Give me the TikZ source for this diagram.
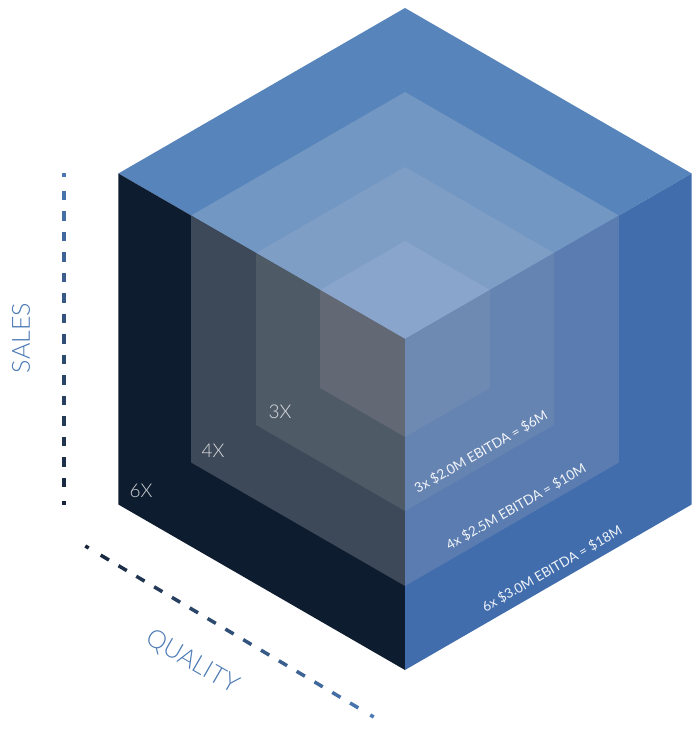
\documentclass[tikz,border=0pt]{standalone}
\usepackage{fontspec}
\setmainfont{Lato}
\newfontfamily\thinfont{Lato Light}
\usepackage{xcolor}
\usetikzlibrary{positioning,calc}
\definecolor{TopA}{HTML}{5784BA}
\definecolor{LeftA}{HTML}{0E1C2F}
\definecolor{RightA}{HTML}{416DAD}
\definecolor{TopB}{HTML}{7297C3}
\definecolor{LeftB}{HTML}{3D4858}
\definecolor{RightB}{HTML}{5A7CB0}
\definecolor{TopC}{HTML}{7F9EC6}
\definecolor{LeftC}{HTML}{4F5A67}
\definecolor{RightC}{HTML}{6684B2}
\definecolor{TopD}{HTML}{89A5CB}
\definecolor{LeftD}{HTML}{636875}
\definecolor{RightD}{HTML}{6E89B2}
\definecolor{AxBlue}{HTML}{4A79B4}
\definecolor{AxNavy}{HTML}{17253A}

\begin{document}
\begin{tikzpicture}[x=1pt, y=-1pt,
  mult/.style={font=\thinfont\fontsize{19}{19}\selectfont, text=white, text opacity=0.8},
  ebit/.style={font=\fontsize{13.5}{14}\selectfont, text=white, text opacity=0.92, rotate=30},
  axlbl/.style={font=\thinfont\fontsize{25}{25}\selectfont, text=AxBlue},
  axdash/.style={line width=3.5pt, line cap=butt},
]
\useasboundingbox (0,0) rectangle (700,730);

%% ─ Nested cubes (all share the front corner) ────────────────────────────────
\coordinate (c) at (405,339);
\foreach \s/\ctop/\clft/\crgt in {331/TopA/LeftA/RightA, 247/TopB/LeftB/RightB,
                                  172/TopC/LeftC/RightC,  98/TopD/LeftD/RightD}{
  \fill[\ctop] (c) -- ++({-0.866*\s},{-0.5*\s}) -- ++({0.866*\s},{-0.5*\s})
                   -- ++({0.866*\s},{0.5*\s}) -- cycle;
  \fill[\clft] (c) -- ++({-0.866*\s},{-0.5*\s}) -- ++(0,\s)
                   -- ++({0.866*\s},{0.5*\s}) -- cycle;
  \fill[\crgt] (c) -- ++({0.866*\s},{-0.5*\s}) -- ++(0,\s)
                   -- ++({-0.866*\s},{0.5*\s}) -- cycle;
}

%% ─ Multiples ────────────────────────────────────────────────────────────────
\node[mult] (six)   at (141,491) {6X};
\node[mult] (four)  at (213,451) {4X};
\node[mult] (three) at (280,412) {3X};

%% ─ EBITDA labels ────────────────────────────────────────────────────────────
\node[ebit] (ebthree) at (481,452) {3x \$2.0M EBITDA = \$6M};
\node[ebit] (ebfour)  at (516,507) {4x \$2.5M EBITDA = \$10M};
\node[ebit] (ebsix)   at (552,569) {6x \$3.0M EBITDA = \$18M};

%% ─ Axes ─────────────────────────────────────────────────────────────────────
\coordinate (stop) at (64,175);
\coordinate (sbot) at (64,503);
\coordinate (qtop) at (87,547);
\coordinate (qbot) at (372,716);

\foreach \k in {0,...,16}{
  \pgfmathsetmacro\t{\k/16}
  \pgfmathsetmacro\d{ifthenelse(\k==0,0.006,ifthenelse(\k==16,0.006,0.0145))}
  \pgfmathsetmacro\mix{100*(1-\t)}
  \draw[axdash, AxBlue!\mix!AxNavy] ($(stop)!{\t-\d}!(sbot)$) -- ($(stop)!{\t+\d}!(sbot)$);
  \draw[axdash, AxNavy!\mix!AxBlue] ($(qtop)!{\t-\d}!(qbot)$) -- ($(qtop)!{\t+\d}!(qbot)$);
}

\node[axlbl, rotate=90]  (sales)   at (21,338)  {SALES};
\node[axlbl, rotate=-30] (quality) at (192,662) {QUALITY};

\end{tikzpicture}
\end{document}
